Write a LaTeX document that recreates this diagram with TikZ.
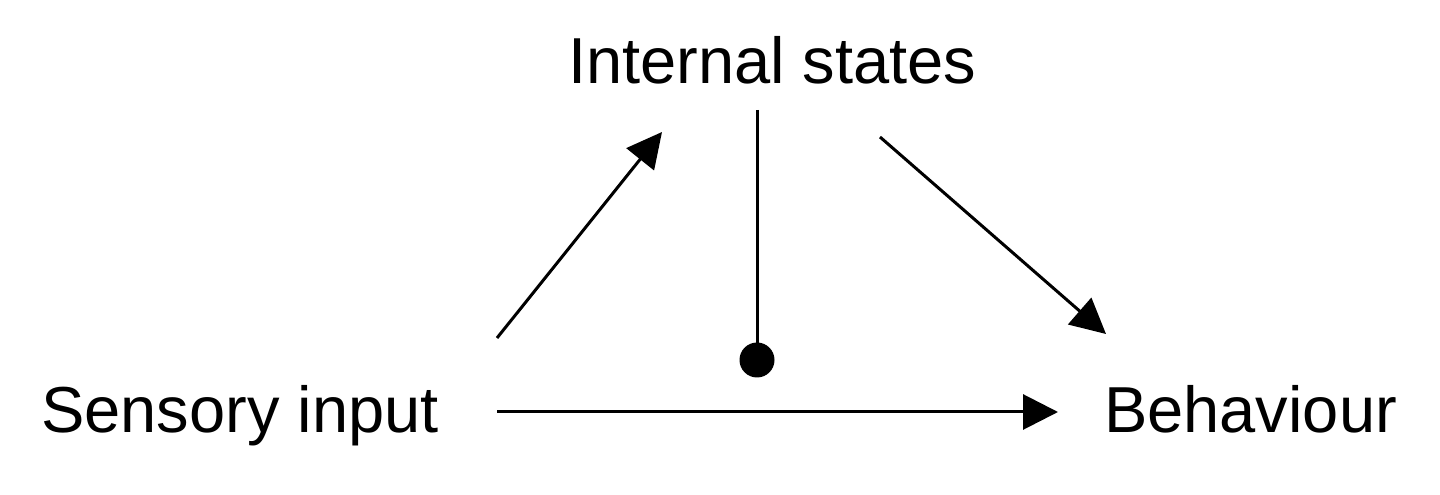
\documentclass[tikz,border=0pt]{standalone}
\usepackage{fontspec}
\setmainfont{Liberation Sans}
\usetikzlibrary{arrows.meta}
\begin{document}
\begin{tikzpicture}[x=1pt,y=1pt,
  lbl/.style={font=\fontsize{65}{77}\selectfont, inner sep=0pt, anchor=base west},
  conn/.style={line width=3pt},
  arr/.style={conn, -{Triangle[length=35pt,width=35pt]}},
  dotnode/.style={circle, fill=black, inner sep=0pt, minimum size=35pt}]
\useasboundingbox (0,0) rectangle (1440,495);
\node[lbl] (int) at (568,411) {Internal states};
\node[lbl] (sens) at (41,62) {Sensory input};
\node[lbl] (beh) at (1104,62) {Behaviour};
\node[dotnode] (dot) at (757,135) {};
\coordinate (sensTop) at (497,157);
\coordinate (intIn) at (662,363);
\coordinate (intDown) at (757,385);
\coordinate (intOut) at (880,358);
\coordinate (behIn) at (1106,161);
\coordinate (sensRight) at (497,83);
\coordinate (behLeft) at (1058,83);
\draw[arr] (sensTop) -- (intIn);
\draw[conn] (intDown) -- (dot.center);
\draw[arr] (intOut) -- (behIn);
\draw[arr] (sensRight) -- (behLeft);
\end{tikzpicture}
\end{document}
